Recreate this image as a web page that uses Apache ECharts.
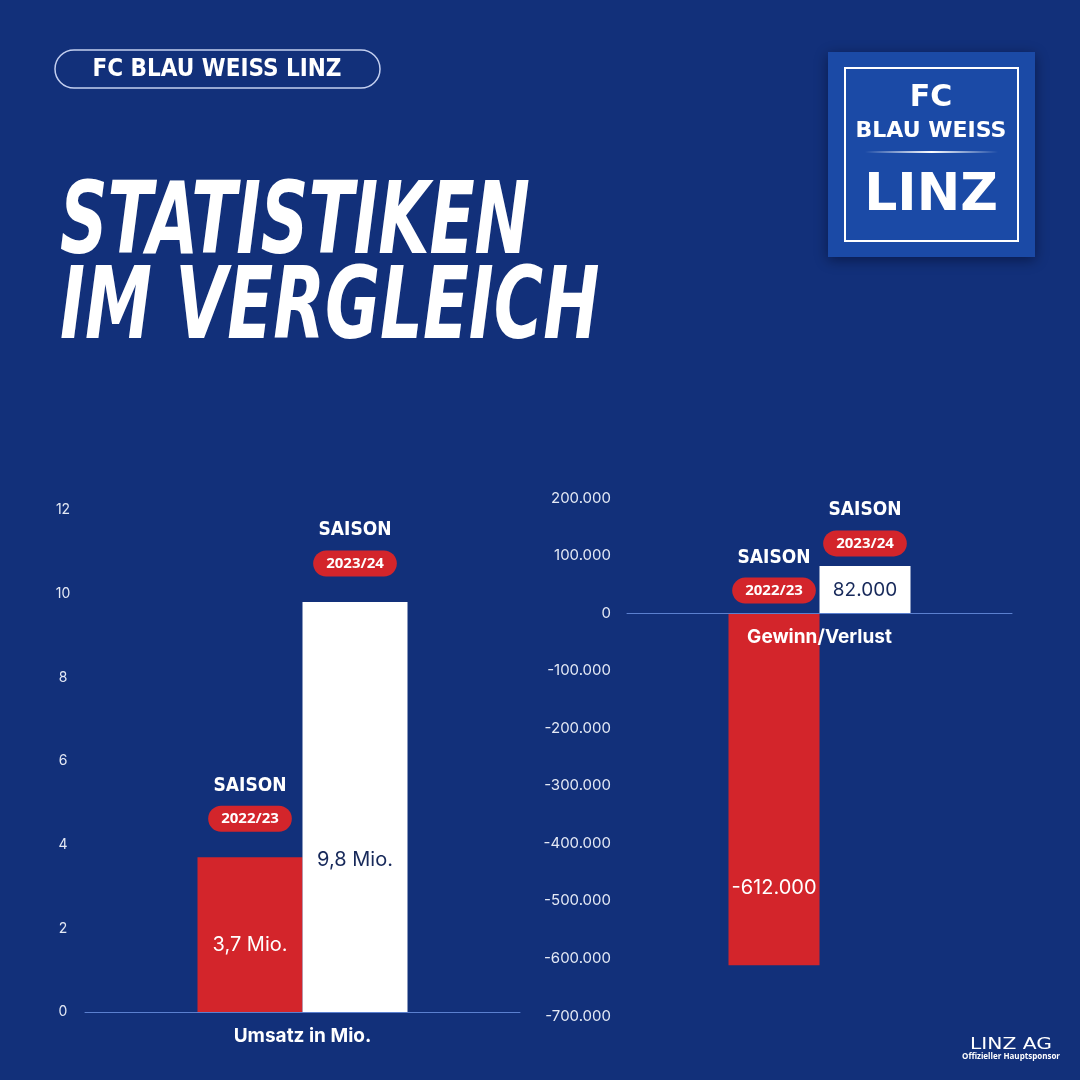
<!DOCTYPE html>
<html>
<head>
<meta charset="utf-8">
<script src="https://cdn.jsdelivr.net/npm/echarts@6/dist/echarts.min.js"></script>
<style>
  html, body { margin: 0; padding: 0; background: #12307a; }
  #chart { width: 1080px; height: 1080px; }
</style>
</head>
<body>
<div id="chart"></div>
<script>
// data
var seasons = ['2022/23', '2023/24'];
var umsatzCat = ['Umsatz in Mio.'];
var umsatz = [3.7, 9.8];
var gewinnCat = ['Gewinn/Verlust'];
var gewinn = [-612000, 82000];
var umsatzTicks = { min: 0, max: 12, step: 2 };
var gewinnTicks = { min: -700000, max: 200000, step: 100000 };

var BG = '#12307a';
var RED = '#d3252b';
var NAVY = '#17295a';
var NARROW = '"Liberation Sans Narrow", "DejaVu Sans Condensed", sans-serif';
var SANS = 'Inter, Roboto, sans-serif';

// right grid size, the category axis sits on the zero line
var rightGrid = { left: 627, top: 498, width: 385, height: 518 };
var zeroOffset = rightGrid.height * (0 - gewinnTicks.min) / (gewinnTicks.max - gewinnTicks.min);

function fmtThousands(v) {
  var s = String(Math.abs(v)).replace(/\B(?=(\d{3})+(?!\d))/g, '.');
  return (v < 0 ? '-' : '') + s;
}
function fmtMio(v) {
  return String(v).replace('.', ',') + ' Mio.';
}

function headerLabel(season, dist) {
  return {
    show: true,
    position: 'top',
    distance: dist,
    formatter: '{s|SAISON}\n{p|' + season + '}',
    rich: {
      s: { fontFamily: NARROW, fontWeight: 'bold', fontSize: 19, color: '#fff', lineHeight: 50, align: 'center' },
      p: { fontFamily: '"Open Sans", sans-serif', fontWeight: 'bold', fontSize: 15, color: '#fff',
           backgroundColor: RED, borderRadius: 13, padding: [6, 13, 5, 13], lineHeight: 16, align: 'center' }
    }
  };
}

function bar(xi, cat, value, season, color, textColor, text, pos, width, dist, fsize) {
  return {
    type: 'bar',
    xAxisIndex: xi,
    yAxisIndex: xi,
    data: [value],
    barWidth: width,
    barGap: '0%',
    itemStyle: { color: color },
    label: {
      show: true,
      position: pos,
      align: 'center',
      verticalAlign: 'middle',
      formatter: text,
      color: textColor,
      fontFamily: SANS,
      fontSize: fsize
    },
    markPoint: {
      symbol: 'rect',
      symbolSize: 1,
      itemStyle: { color: 'rgba(0,0,0,0)' },
      silent: true,
      data: [{ coord: [cat, Math.max(value, 0)] }],
      label: headerLabel(season, dist)
    }
  };
}

var chart = echarts.init(document.getElementById('chart'));

var option = {
  backgroundColor: BG,
  animation: false,
  grid: [
    { left: 85, top: 510, width: 435, height: 502 },
    rightGrid
  ],
  xAxis: [
    {
      type: 'category', gridIndex: 0, data: umsatzCat, z: 10,
      axisLine: { lineStyle: { color: '#5b80cf', width: 1 } },
      axisTick: { show: false },
      axisLabel: { color: '#fff', fontWeight: 'bold', fontSize: 19, fontFamily: SANS, margin: 15 }
    },
    {
      type: 'category', gridIndex: 1, data: gewinnCat, z: 10,
      offset: -zeroOffset,
      axisLine: { onZero: false, lineStyle: { color: '#5b80cf', width: 1 } },
      axisTick: { show: false },
      axisLabel: { color: '#fff', fontWeight: 'bold', fontSize: 19, fontFamily: SANS, margin: 15 }
    }
  ],
  yAxis: [
    {
      type: 'value', gridIndex: 0,
      min: umsatzTicks.min, max: umsatzTicks.max, interval: umsatzTicks.step,
      splitLine: { show: false }, axisLine: { show: false }, axisTick: { show: false },
      axisLabel: { color: '#e4e9f5', fontSize: 14, fontFamily: SANS, align: 'center', margin: 22 }
    },
    {
      type: 'value', gridIndex: 1,
      min: gewinnTicks.min, max: gewinnTicks.max, interval: gewinnTicks.step,
      splitLine: { show: false }, axisLine: { show: false }, axisTick: { show: false },
      axisLabel: { color: '#e4e9f5', fontSize: 15, fontFamily: SANS, margin: 16, formatter: fmtThousands }
    }
  ],
  series: [
    bar(0, umsatzCat[0], umsatz[0], seasons[0], RED, '#fff', fmtMio(umsatz[0]), ['50%', '57%'], 105, 30, 20),
    bar(0, umsatzCat[0], umsatz[1], seasons[1], '#fff', NAVY, fmtMio(umsatz[1]), ['50%', '63%'], 105, 30, 20),
    bar(1, gewinnCat[0], gewinn[0], seasons[0], RED, '#fff', fmtThousands(gewinn[0]), ['50%', '78%'], 91, 14, 20),
    bar(1, gewinnCat[0], gewinn[1], seasons[1], '#fff', NAVY, fmtThousands(gewinn[1]), ['50%', '52%'], 91, 14, 19)
  ],
  graphic: [
    // header pill
    { type: 'rect', shape: { x: 55, y: 50, width: 325, height: 38, r: 19 },
      style: { fill: 'none', stroke: '#c3cff0', lineWidth: 1.5 } },
    { type: 'text', x: 217, y: 70,
      style: { text: 'FC BLAU WEISS LINZ', font: 'bold 24px ' + NARROW, fill: '#fff', align: 'center', verticalAlign: 'middle' } },
    // title
    { type: 'text', x: 60, y: 227, scaleX: 0.735,
      style: { text: 'STATISTIKEN', font: 'italic bold 100px ' + NARROW, fill: '#fff', align: 'left', verticalAlign: 'middle' } },
    { type: 'text', x: 60, y: 312, scaleX: 0.747,
      style: { text: 'IM VERGLEICH', font: 'italic bold 100px ' + NARROW, fill: '#fff', align: 'left', verticalAlign: 'middle' } },
    // logo
    { type: 'rect', shape: { x: 828, y: 52, width: 207, height: 205 },
      style: { fill: '#1b4aa6', shadowBlur: 12, shadowColor: 'rgba(0,0,20,0.45)', shadowOffsetY: 3 } },
    { type: 'rect', shape: { x: 845, y: 68, width: 173, height: 173 },
      style: { fill: 'none', stroke: '#fff', lineWidth: 2 } },
    { type: 'text', x: 931, y: 98,
      style: { text: 'FC', font: 'bold 30px "DejaVu Sans", sans-serif', fill: '#fff', align: 'center', verticalAlign: 'middle' } },
    { type: 'text', x: 931, y: 131,
      style: { text: 'BLAU WEISS', font: 'bold 22px "DejaVu Sans", sans-serif', fill: '#fff', align: 'center', verticalAlign: 'middle' } },
    { type: 'rect', shape: { x: 865, y: 151, width: 133, height: 2 },
      style: { fill: new echarts.graphic.LinearGradient(0, 0, 1, 0, [
        { offset: 0, color: 'rgba(255,255,255,0)' },
        { offset: 0.5, color: 'rgba(255,255,255,1)' },
        { offset: 1, color: 'rgba(255,255,255,0)' }]) } },
    { type: 'text', x: 931, y: 196,
      style: { text: 'LINZ', font: 'bold 52px "DejaVu Sans", sans-serif', fill: '#fff', align: 'center', verticalAlign: 'middle' } },
    // sponsor
    { type: 'text', x: 1011, y: 1045, scaleX: 1.35,
      style: { text: 'LINZ AG', font: '15px "DejaVu Sans", sans-serif', fill: '#fff', align: 'center', verticalAlign: 'middle' } },
    { type: 'text', x: 1011, y: 1057,
      style: { text: 'Offizieller Hauptsponsor', font: 'bold 8px "Open Sans", sans-serif', fill: '#fff', align: 'center', verticalAlign: 'middle' } }
  ]
};

chart.setOption(option);
</script>
</body>
</html>
